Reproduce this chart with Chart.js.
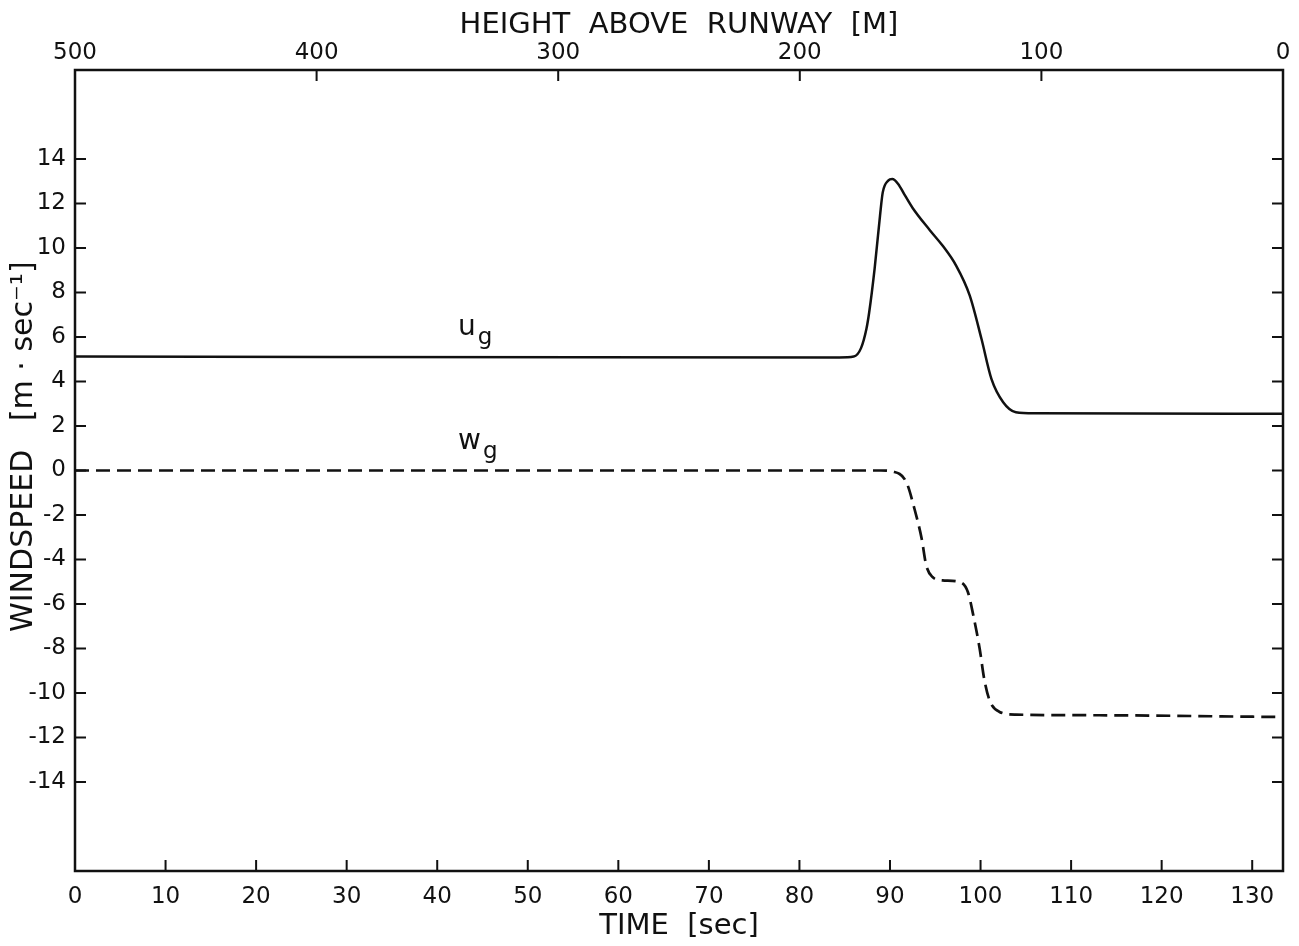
<!DOCTYPE html>
<html>
<head>
<meta charset="utf-8">
<script src="https://cdn.jsdelivr.net/npm/chart.js@4"></script>
<style>
  html, body { margin: 0; padding: 0; background: #fff; }
  #wrap { width: 1299px; height: 946px; }
</style>
</head>
<body>
<div id="wrap"><canvas id="windChart"></canvas></div>
<script>
// horizontal gust u_g (solid)
const ugTime  = [0, 84.4, 86.0, 86.8, 87.4, 87.7, 88.3, 88.9, 89.2, 89.8, 90.25, 90.9, 91.6, 92.5, 94.4, 95.8, 97.3, 98.8, 100.1, 101.2, 102.5, 103.9, 106.0, 133.4];
const ugSpeed = [5.12, 5.08, 5.12, 5.5, 6.37, 7.1, 9.06, 11.46, 12.5, 13.03, 13.1, 12.88, 12.4, 11.8, 10.8, 10.11, 9.21, 7.87, 5.92, 4.12, 3.07, 2.62, 2.57, 2.55];

// vertical gust w_g (dashed)
const wgTime  = [0, 89.0, 90.3, 91.8, 92.7, 93.5, 94.0, 94.7, 95.8, 97.7, 98.6, 99.2, 99.9, 100.4, 101.0, 102.1, 103.9, 113.1, 133.4];
const wgSpeed = [0, 0, -0.05, -0.52, -1.72, -3.07, -4.26, -4.79, -4.94, -5.01, -5.46, -6.51, -8.0, -9.36, -10.33, -10.85, -10.97, -11.0, -11.08];

const timeTicks = [0, 10, 20, 30, 40, 50, 60, 70, 80, 90, 100, 110, 120, 130];
const heightTicks = [500, 400, 300, 200, 100, 0];
const speedTicks = [14, 12, 10, 8, 6, 4, 2, 0, -2, -4, -6, -8, -10, -12, -14];

const FONT = "'DejaVu Sans', sans-serif";
const INK = "#111";

const toPoints = (xs, ys) => xs.map((x, i) => ({ x: x, y: ys[i] }));

// frame, inward tick marks and the u_g / w_g labels
const frameAndTicks = {
  id: "frameAndTicks",
  afterDatasetsDraw(chart) {
    const { ctx, chartArea: a, scales } = chart;
    ctx.save();
    ctx.strokeStyle = INK;
    ctx.lineWidth = 2.5;
    ctx.strokeRect(a.left, a.top, a.right - a.left, a.bottom - a.top);

    const len = 11;
    ctx.lineWidth = 2;
    ctx.beginPath();
    for (let v of timeTicks) {
      if (v <= 0) continue;
      const px = scales.x.getPixelForValue(v);
      ctx.moveTo(px, a.bottom);
      ctx.lineTo(px, a.bottom - len);
    }
    for (let v of heightTicks) {
      if (v <= 0 || v >= 500) continue;
      const px = scales.x2.getPixelForValue(v);
      ctx.moveTo(px, a.top);
      ctx.lineTo(px, a.top + len);
    }
    for (let v of speedTicks) {
      const py = scales.y.getPixelForValue(v);
      ctx.moveTo(a.left, py);
      ctx.lineTo(a.left + len, py);
      ctx.moveTo(a.right, py);
      ctx.lineTo(a.right - len, py);
    }
    ctx.stroke();

    const labels = [
      { main: "u", sub: "g", t: 42.3, v: 6.08 },
      { main: "w", sub: "g", t: 42.3, v: 0.96 },
    ];
    ctx.fillStyle = INK;
    ctx.textBaseline = "alphabetic";
    ctx.textAlign = "left";
    for (let l of labels) {
      const px = scales.x.getPixelForValue(l.t);
      const py = scales.y.getPixelForValue(l.v);
      ctx.font = "28px " + FONT;
      ctx.fillText(l.main, px, py);
      const w = ctx.measureText(l.main).width;
      ctx.font = "23px " + FONT;
      ctx.fillText(l.sub, px + w + 2, py + 9);
    }
    ctx.restore();
  },
};

const tickFont = { family: FONT, size: 23 };
const titleFont = { family: FONT, size: 29 };

const config = {
  type: "line",
  data: {
    datasets: [
      {
        label: "u_g",
        data: toPoints(ugTime, ugSpeed),
        borderColor: INK,
        borderWidth: 2.5,
        pointRadius: 0,
        fill: false,
        cubicInterpolationMode: "monotone",
        xAxisID: "x",
        yAxisID: "y",
      },
      {
        label: "w_g",
        data: toPoints(wgTime, wgSpeed),
        borderColor: INK,
        borderWidth: 2.7,
        borderDash: [14, 7],
        pointRadius: 0,
        fill: false,
        cubicInterpolationMode: "monotone",
        xAxisID: "x",
        yAxisID: "y",
      },
    ],
  },
  options: {
    responsive: true,
    maintainAspectRatio: false,
    animation: false,
    devicePixelRatio: 1,
    layout: { padding: { left: 0, right: 16, top: 0, bottom: 0 } },
    plugins: {
      legend: { display: false },
      tooltip: { enabled: false },
    },
    scales: {
      x: {
        type: "linear",
        position: "bottom",
        min: 0,
        max: 133.4,
        grid: { display: false, drawTicks: false },
        border: { display: false },
        afterBuildTicks: (s) => { s.ticks = timeTicks.map((v) => ({ value: v })); },
        afterFit: (s) => { s.height = 75; },
        ticks: { font: tickFont, color: INK, padding: 12, maxRotation: 0, autoSkip: false },
        title: { display: true, text: "TIME  [sec]", font: titleFont, color: INK, padding: { top: 0, bottom: 2 } },
      },
      x2: {
        type: "linear",
        position: "top",
        min: 0,
        max: 500,
        reverse: true,
        grid: { display: false, drawTicks: false },
        border: { display: false },
        afterBuildTicks: (s) => { s.ticks = heightTicks.map((v) => ({ value: v })); },
        afterFit: (s) => { s.height = 70; },
        ticks: { font: tickFont, color: INK, padding: 3, maxRotation: 0, autoSkip: false },
        title: { display: true, text: "HEIGHT  ABOVE  RUNWAY  [M]", font: titleFont, color: INK, padding: { top: 8, bottom: 0 } },
      },
      y: {
        type: "linear",
        position: "left",
        min: -18,
        max: 18,
        grid: { display: false, drawTicks: false },
        border: { display: false },
        afterBuildTicks: (s) => { s.ticks = speedTicks.map((v) => ({ value: v })); },
        afterFit: (s) => { s.width = 75; },
        ticks: { font: tickFont, color: INK, padding: 9, autoSkip: false },
        title: { display: true, text: "     WINDSPEED   [m · sec⁻¹]", font: { family: FONT, size: 30 }, color: INK, padding: { top: 6, bottom: 0 } },
      },
    },
  },
  plugins: [frameAndTicks],
};

const windChart = new Chart(document.getElementById("windChart"), config);
</script>
</body>
</html>
